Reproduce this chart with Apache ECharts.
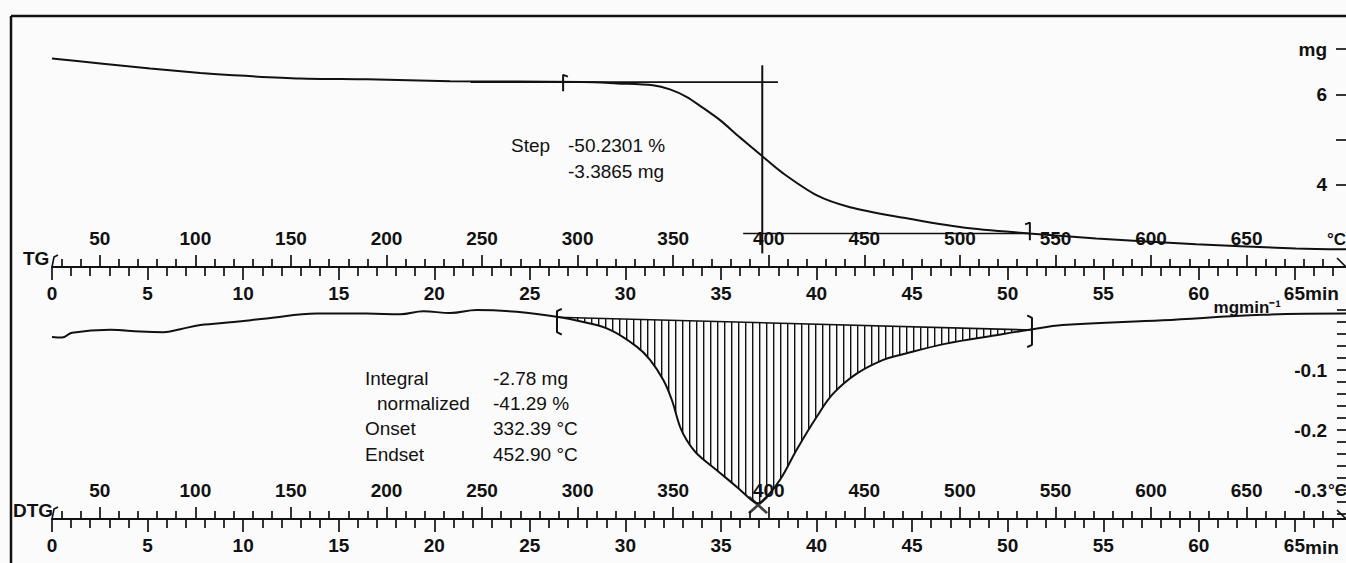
<!DOCTYPE html>
<html>
<head>
<meta charset="utf-8">
<title>TG / DTG</title>
<script src="https://cdn.jsdelivr.net/npm/echarts@6/dist/echarts.min.js"></script>
<style>
  html, body { margin: 0; padding: 0; background: #fbfbfb; }
  #chart { width: 1346px; height: 563px; }
</style>
</head>
<body>
<div id="chart"></div>
<script>
// TG curve: temperature (°C) / mass (mg)
var tgTemp = [25, 50.3, 76.4, 102.6, 119.8, 154.9, 189.9, 233.3, 302.9, 320.6, 339.4, 348.3, 357.2, 365.6, 374.5, 384.9, 395.9, 407.4, 425.2, 442.5, 468.7, 501.7, 536.2, 571.3, 623.6, 675.9, 702]
var tgMass = [6.79, 6.68, 6.57, 6.47, 6.42, 6.35, 6.33, 6.29, 6.27, 6.24, 6.20, 6.11, 5.94, 5.70, 5.43, 5.05, 4.66, 4.26, 3.77, 3.51, 3.29, 3.06, 2.93, 2.82, 2.69, 2.60, 2.58]

// DTG curve: temperature (°C) / rate (mg/min)
var dtgTemp = [25, 30.2, 35.5, 55.5, 71.2, 83.4, 92.1, 102.6, 120.0, 137.4, 163.6, 189.7, 207.2, 219.3, 233.3, 247.3, 268.2, 290.8, 303.0, 317.0, 330.9, 337.9, 344.9, 349.3, 353.6, 357.1, 362.3, 372.8, 383.3, 391.1, 394.4, 399.0, 405.9, 414.6, 425.1, 433.8, 446.0, 459.9, 468.7, 492.8, 518.9, 536.3, 553.8, 606.1, 658.4, 702]
var dtgRate = [-0.045, -0.046, -0.038, -0.033, -0.036, -0.037, -0.032, -0.025, -0.020, -0.014, -0.006, -0.006, -0.007, -0.002, -0.005, 0.000, -0.003, -0.012, -0.020, -0.033, -0.061, -0.083, -0.117, -0.150, -0.195, -0.217, -0.239, -0.267, -0.295, -0.317, -0.322, -0.311, -0.283, -0.233, -0.178, -0.139, -0.106, -0.083, -0.075, -0.056, -0.042, -0.033, -0.025, -0.017, -0.008, -0.006]

// step evaluation on TG
var stepUpperT = [244, 404.8], stepUpperM = 6.27
var stepLowerT = [386.6, 536.6], stepLowerM = 2.93
var stepMidT = 396.6, stepMidM = [6.64, 2.49]
var tgMarkT = [292.4, 536.6], tgMarkM = [[6.43, 6.07], [3.17, 2.78]]

// integration on DTG
var baseTemp = [289.0, 537.0], baseRate = [-0.012, -0.0333]
var dtgMarkT = [289.2, 537.7], dtgMarkR = [[-0.002, -0.037], [-0.013, -0.058]]
var peakT = 394.4, peakR = -0.325

// axis ticks and labels
var tempLabels = [50, 100, 150, 200, 250, 300, 350, 400, 450, 500, 550, 600, 650]
var tempMinor = [30, 40, 60, 70, 80, 90, 110, 120, 130, 140, 160, 170, 180, 190, 210, 220, 230, 240, 260, 270, 280, 290, 310, 320, 330, 340, 360, 370, 380, 390, 410, 420, 430, 440, 460, 470, 480, 490, 510, 520, 530, 540, 560, 570, 580, 590, 610, 620, 630, 640, 660, 670, 680, 690]
var timeLabels = [0, 5, 10, 15, 20, 25, 30, 35, 40, 45, 50, 55, 60, 65]
var timeMinor = [1, 2, 3, 4, 6, 7, 8, 9, 11, 12, 13, 14, 16, 17, 18, 19, 21, 22, 23, 24, 26, 27, 28, 29, 31, 32, 33, 34, 36, 37, 38, 39, 41, 42, 43, 44, 46, 47, 48, 49, 51, 52, 53, 54, 56, 57, 58, 59, 61, 62, 63, 64, 66, 67]
var tgTicks = [4, 5, 6, 7], tgLabels = [4, 6, 7]
var dtgTicks = [0, -0.02, -0.04, -0.06, -0.08, -0.1, -0.12, -0.14, -0.16, -0.18, -0.2, -0.22, -0.24, -0.26, -0.28, -0.3, -0.32, -0.34]
var dtgLabels = [0, -0.1, -0.2, -0.3]

var tempMin = 25, tempMax = 702, timeMax = 67.7
var ink = '#111'
var fontFam = '"Liberation Sans", Arial, sans-serif'

function ruler (grid, min, max, ticks, len, inside, labels, margin, showLine) {
  return {
    type: 'value', gridIndex: grid, position: 'bottom', min: min, max: max,
    axisLine: {show: showLine, onZero: false, lineStyle: {color: ink, width: 2}},
    axisTick: {show: true, inside: inside, length: len, customValues: ticks, lineStyle: {color: ink, width: 1.7}},
    axisLabel: labels ? {show: true, inside: inside, margin: margin, customValues: labels, color: ink,
      fontSize: 19, fontWeight: 'bold', fontFamily: fontFam} : {show: false},
    splitLine: {show: false}
  }
}

function seg (xi, yi, pts, w) {
  return {type: 'line', xAxisIndex: xi, yAxisIndex: yi, data: pts, symbol: 'none', silent: true,
    lineStyle: {color: ink, width: w || 1.6}, z: 4}
}

function txt (s, x, y, align, weight, size) {
  return {type: 'text', silent: true, style: {text: s, x: x, y: y, fill: ink, textAlign: align || 'left',
    textVerticalAlign: 'middle', font: (weight || 'normal') + ' ' + (size || 19) + 'px ' + fontFam}}
}

function zip (a, b) {
  var out = []
  for (var i = 0; i < a.length; i++) out.push([a[i], b[i]])
  return out
}

// vertical hatch pattern for the integrated area
var hatch = document.createElement('canvas')
hatch.width = 7
hatch.height = 8
var hctx = hatch.getContext('2d')
hctx.fillStyle = ink
hctx.fillRect(3, 0, 1.4, 8)

var chart = echarts.init(document.getElementById('chart'), null, {renderer: 'svg'})

var option = {
  animation: false,
  backgroundColor: '#fbfbfb',
  grid: [
    {left: 52, right: 0, top: 49, height: 218, outerBoundsMode: 'none'},
    {left: 52, right: 0, top: 300, height: 219, outerBoundsMode: 'none'}
  ],
  xAxis: [
    ruler(0, tempMin, tempMax, tempMinor, 8, true, null, 0, true),
    ruler(0, tempMin, tempMax, tempLabels, 12, true, tempLabels, 19, false),
    ruler(0, 0, timeMax, timeMinor, 9, false, null, 0, false),
    ruler(0, 0, timeMax, timeLabels, 13, false, timeLabels, 17, false),
    ruler(1, tempMin, tempMax, tempMinor, 8, true, null, 0, true),
    ruler(1, tempMin, tempMax, tempLabels, 12, true, tempLabels, 19, false),
    ruler(1, 0, timeMax, timeMinor, 9, false, null, 0, false),
    ruler(1, 0, timeMax, timeLabels, 13, false, timeLabels, 17, false)
  ],
  yAxis: [
    {
      type: 'value', gridIndex: 0, position: 'right', min: 2.19, max: 7,
      axisLine: {show: false, onZero: false},
      axisTick: {show: true, inside: true, length: 10, customValues: tgTicks, lineStyle: {color: ink, width: 1.7}},
      axisLabel: {inside: true, margin: 19, customValues: tgLabels, color: ink, fontSize: 19, fontWeight: 'bold',
        fontFamily: fontFam, formatter: function (v) { return v === 7 ? 'mg' : String(v) }},
      splitLine: {show: false}
    },
    {
      type: 'value', gridIndex: 1, position: 'right', min: -0.3483, max: 0.0167,
      axisLine: {show: false, onZero: false},
      axisTick: {show: true, inside: true, length: 9, customValues: dtgTicks, lineStyle: {color: ink, width: 1.7}},
      axisLabel: {inside: true, margin: 19, customValues: dtgLabels, color: ink, fontSize: 19, fontWeight: 'bold',
        fontFamily: fontFam,
        formatter: function (v) { return Math.abs(v) < 1e-9 ? '{u|mgmin\u207b\u00b9}' : v.toFixed(1) },
        rich: {u: {fontSize: 17, fontWeight: 'bold', fontFamily: fontFam, color: ink, padding: [0, 46, 6, 0]}}},
      splitLine: {show: false}
    }
  ],
  series: [
    {type: 'line', name: 'TG', xAxisIndex: 1, yAxisIndex: 0, data: zip(tgTemp, tgMass), smooth: 0.3,
      symbol: 'none', lineStyle: {color: ink, width: 2}, z: 5},
    seg(1, 0, [[stepUpperT[0], stepUpperM], [stepUpperT[1], stepUpperM]]),
    seg(1, 0, [[stepLowerT[0], stepLowerM], [stepLowerT[1], stepLowerM]]),
    seg(1, 0, [[stepMidT, stepMidM[0]], [stepMidT, stepMidM[1]]], 2),
    seg(1, 0, [[tgMarkT[0] + 2.5, tgMarkM[0][0] - 0.04], [tgMarkT[0], tgMarkM[0][0]], [tgMarkT[0], tgMarkM[0][1]]], 2),
    seg(1, 0, [[tgMarkT[1] - 2.5, tgMarkM[1][0] - 0.04], [tgMarkT[1], tgMarkM[1][0]], [tgMarkT[1], tgMarkM[1][1]]], 2),
    {
      type: 'custom', xAxisIndex: 5, yAxisIndex: 1, silent: true, z: 2,
      data: [[baseTemp[0], baseRate[0]]],
      renderItem: function (params, api) {
        var pts = [api.coord([baseTemp[0], baseRate[0]])]
        for (var i = 0; i < dtgTemp.length; i++) {
          if (dtgTemp[i] > baseTemp[0] && dtgTemp[i] < baseTemp[1]) pts.push(api.coord([dtgTemp[i], dtgRate[i]]))
        }
        pts.push(api.coord([baseTemp[1], baseRate[1]]))
        return {type: 'polygon', shape: {points: pts, smooth: 0.3},
          style: {fill: {image: hatch, repeat: 'repeat', imageWidth: 7, imageHeight: 8}, stroke: null}}
      }
    },
    {type: 'line', name: 'DTG', xAxisIndex: 5, yAxisIndex: 1, data: zip(dtgTemp, dtgRate), smooth: 0.4,
      symbol: 'none', lineStyle: {color: ink, width: 2}, z: 5},
    seg(5, 1, zip(baseTemp, baseRate)),
    seg(5, 1, [[dtgMarkT[0] + 2.5, dtgMarkR[0][0] + 0.004], [dtgMarkT[0], dtgMarkR[0][0]], [dtgMarkT[0], dtgMarkR[0][1]], [dtgMarkT[0] + 2.5, dtgMarkR[0][1] - 0.004]], 2),
    seg(5, 1, [[dtgMarkT[1] - 2.5, dtgMarkR[1][0] + 0.004], [dtgMarkT[1], dtgMarkR[1][0]], [dtgMarkT[1], dtgMarkR[1][1]], [dtgMarkT[1] - 2.5, dtgMarkR[1][1] - 0.004]], 2),
    {type: 'scatter', xAxisIndex: 5, yAxisIndex: 1, data: [[peakT, peakR]], silent: true, z: 6,
      symbol: 'path://M0,1L1,0L10,9L9,10Z M9,0L10,1L1,10L0,9Z', symbolSize: [20, 18],
      itemStyle: {color: ink}}
  ],
  graphic: [
    {type: 'line', silent: true, shape: {x1: 11, y1: 16, x2: 1346, y2: 16}, style: {stroke: ink, lineWidth: 2.5}},
    {type: 'line', silent: true, shape: {x1: 11, y1: 16, x2: 11, y2: 563}, style: {stroke: ink, lineWidth: 2.5}},
    {type: 'polyline', silent: true, shape: {points: [[52, 267], [54, 257], [58, 255]]}, style: {stroke: ink, lineWidth: 1.6, fill: null}},
    {type: 'polyline', silent: true, shape: {points: [[52, 519], [54, 509], [58, 507]]}, style: {stroke: ink, lineWidth: 1.6, fill: null}},
    {type: 'line', silent: true, shape: {x1: 1337, y1: 258, x2: 1346, y2: 267}, style: {stroke: ink, lineWidth: 1.6}},
    {type: 'line', silent: true, shape: {x1: 1337, y1: 510, x2: 1346, y2: 519}, style: {stroke: ink, lineWidth: 1.6}},
    txt('TG', 23, 258, 'left', 'bold'),
    txt('DTG', 13, 510, 'left', 'bold'),
    txt('\u00b0C', 1327, 239, 'left', 'bold', 17),
    txt('\u00b0C', 1328, 490, 'left', 'bold', 17),
    txt('min', 1305, 293, 'left', 'bold'),
    txt('min', 1305, 547, 'left', 'bold'),
    txt('Step', 511, 145),
    txt('-50.2301 %', 568, 145),
    txt('-3.3865 mg', 568, 171),
    txt('Integral', 365, 378),
    txt('normalized', 377, 403),
    txt('Onset', 365, 428),
    txt('Endset', 365, 454),
    txt('-2.78 mg', 493, 378),
    txt('-41.29 %', 493, 403),
    txt('332.39 \u00b0C', 493, 428),
    txt('452.90 \u00b0C', 493, 454)
  ]
}

chart.setOption(option)
</script>
</body>
</html>
